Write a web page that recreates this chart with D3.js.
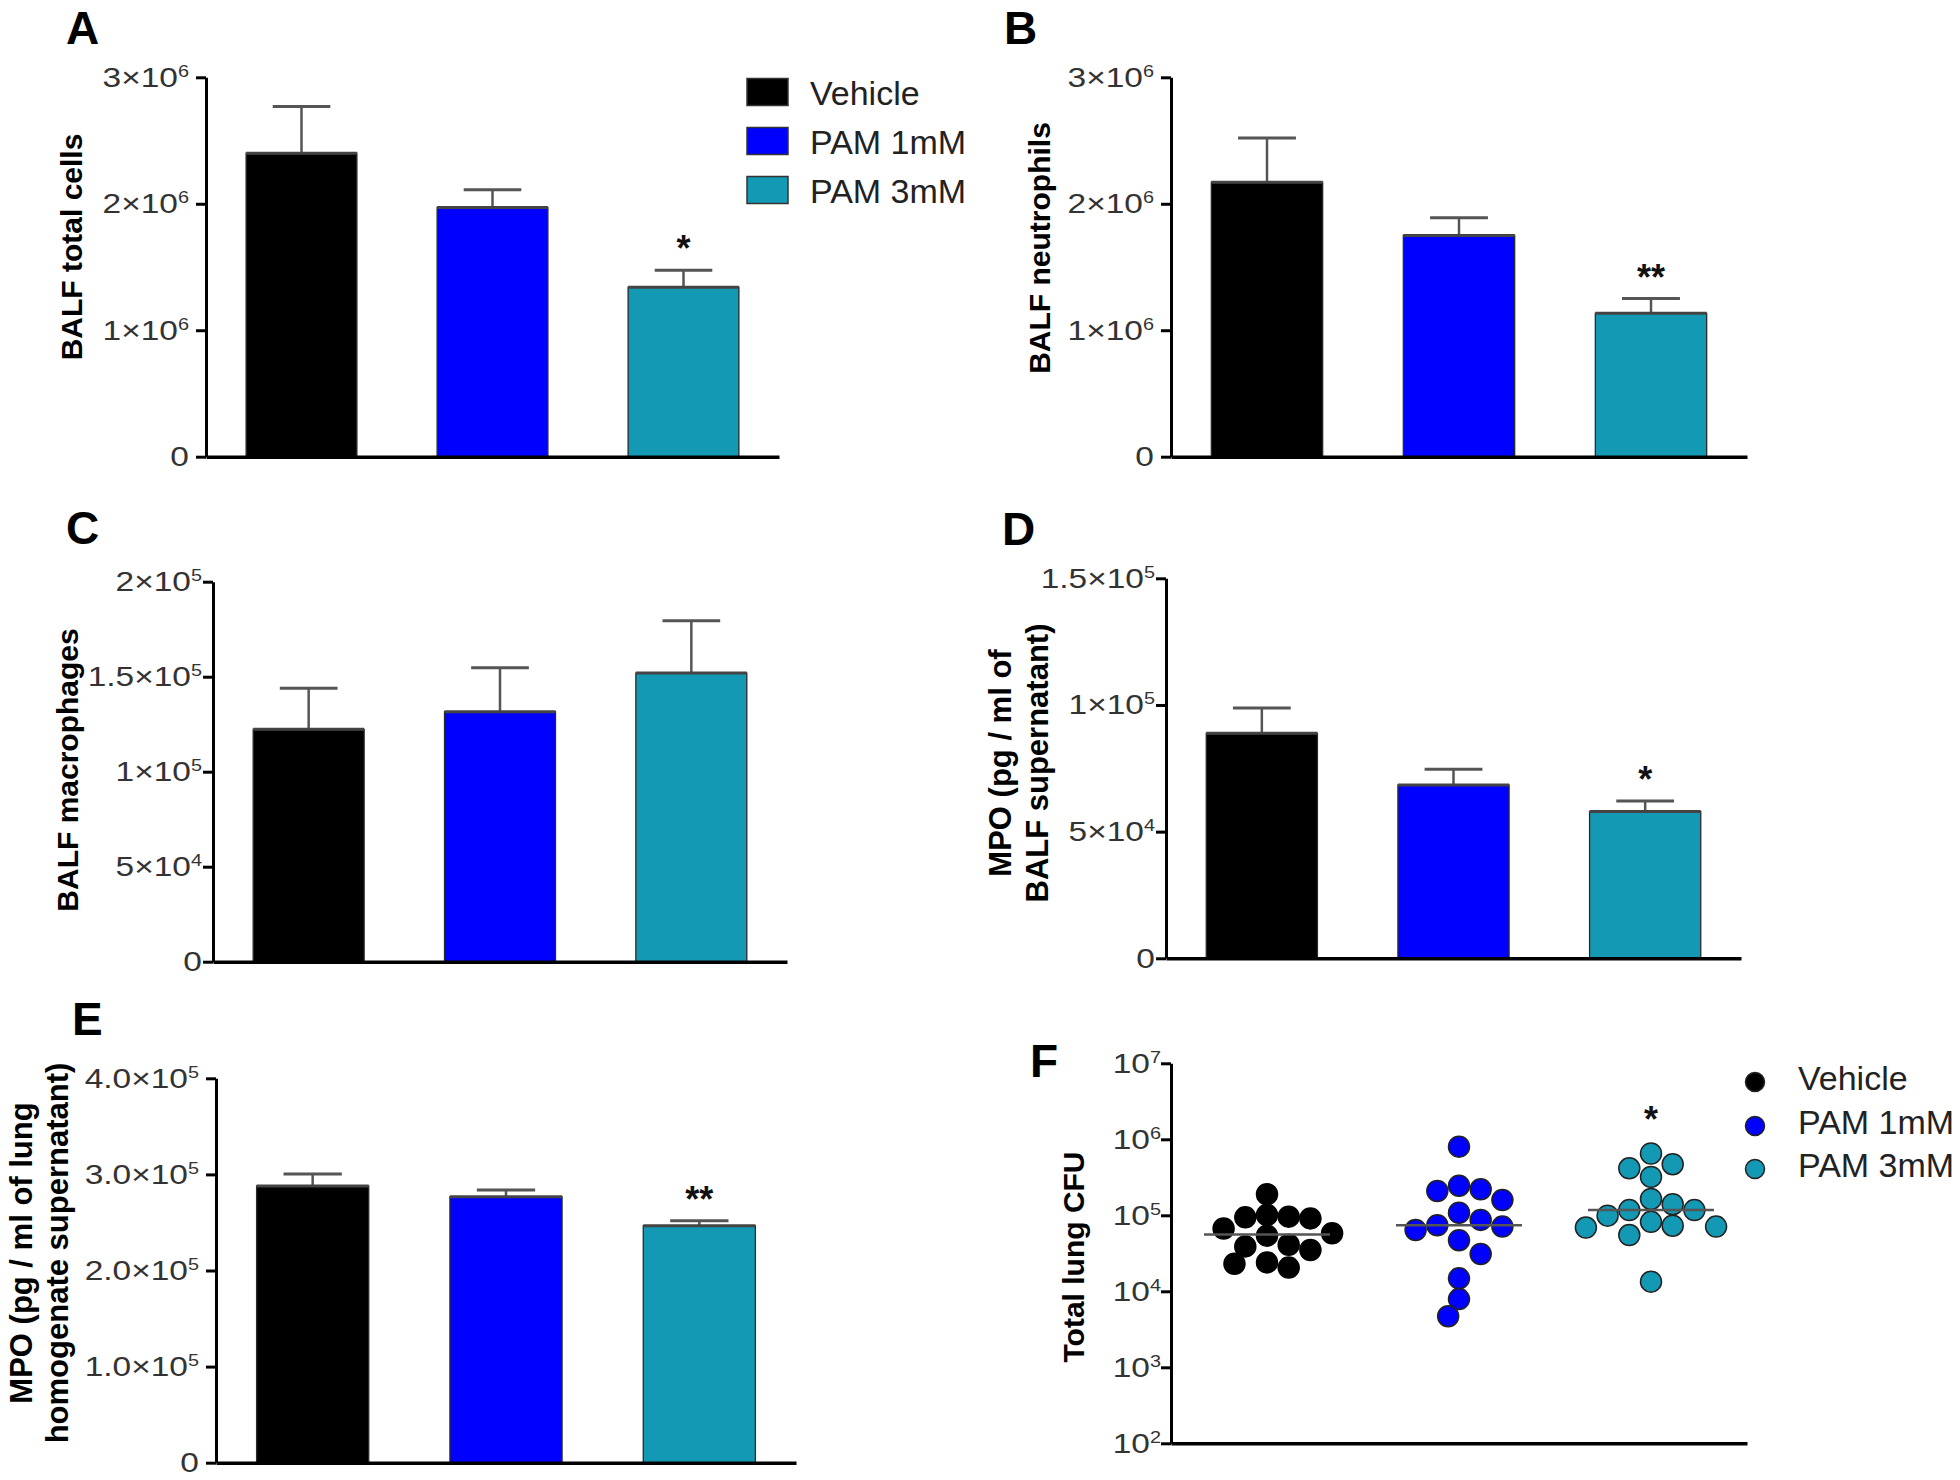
<!DOCTYPE html>
<html><head><meta charset="utf-8">
<script src="https://cdn.jsdelivr.net/npm/d3@7"></script>
<style>
html,body{margin:0;padding:0;background:#fff;}
svg{display:block;font-family:"Liberation Sans",Arial,Helvetica,sans-serif;}
</style></head><body>
<svg id="chart" width="1960" height="1480"></svg>
<script>
// ---------------- DATA ----------------
const groups = ["Vehicle", "PAM 1mM", "PAM 3mM"];

const totalCellsMean = [2.40e6, 1.97e6, 1.34e6];
const totalCellsSem  = [0.37e6, 0.14e6, 0.135e6];
const totalCellsSig  = ["", "", "*"];

const neutrophilsMean = [2.17e6, 1.75e6, 1.134e6];
const neutrophilsSem  = [0.35e6, 0.14e6, 0.116e6];
const neutrophilsSig  = ["", "", "**"];

const macrophagesMean = [1.223e5, 1.316e5, 1.519e5];
const macrophagesSem  = [0.216e5, 0.231e5, 0.276e5];
const macrophagesSig  = ["", "", ""];

const mpoBalfMean = [8.88e4, 6.84e4, 5.79e4];
const mpoBalfSem  = [1.0e4, 0.62e4, 0.42e4];
const mpoBalfSig  = ["", "", "*"];

const mpoLungMean = [2.879e5, 2.768e5, 2.466e5];
const mpoLungSem  = [0.125e5, 0.07e5, 0.052e5];
const mpoLungSig  = ["", "", "**"];

const cfuVehicle = [1.89e5, 1.01e5, 9.1e4, 9.6e4, 9.4e4, 6.7e4, 5.4e4, 5.8e4, 3.9e4, 4.1e4, 3.5e4, 2.05e4, 2.4e4, 2.3e4];
const cfuPam1 = [8.0e5, 2.2e5, 2.45e5, 2.09e5, 1.59e5, 1.08e5, 8.7e4, 7.1e4, 7.4e4, 6.4e4, 4.7e4, 3.1e4, 1.48e4, 7.9e3, 4.7e3];
const cfuPam3 = [6.5e5, 4.7e5, 4.15e5, 3.2e5, 1.64e5, 1.17e5, 1.4e5, 1.17e5, 8.2e4, 9.9e4, 6.9e4, 7.3e4, 7.1e4, 5.5e4, 1.34e4];
const cfuSig = ["", "", "*"];

const ticksA = [0, 1e6, 2e6, 3e6];
const tickLabelsA = ["0", "1×10^6", "2×10^6", "3×10^6"];
const ticksC = [0, 5e4, 1e5, 1.5e5, 2e5];
const tickLabelsC = ["0", "5×10^4", "1×10^5", "1.5×10^5", "2×10^5"];
const ticksD = [0, 5e4, 1e5, 1.5e5];
const tickLabelsD = ["0", "5×10^4", "1×10^5", "1.5×10^5"];
const ticksE = [0, 1e5, 2e5, 3e5, 4e5];
const tickLabelsE = ["0", "1.0×10^5", "2.0×10^5", "3.0×10^5", "4.0×10^5"];
const ticksF = [1e2, 1e3, 1e4, 1e5, 1e6, 1e7];
const tickLabelsF = ["10^2", "10^3", "10^4", "10^5", "10^6", "10^7"];

// ---------------- STYLE ----------------
const colors = ["#000000", "#0000ff", "#1399b4"];
const svg = d3.select("#chart");
const TICK_FS = 27, SUP_FS = 16, TEXT_SX = 1.24;

function tickLabels(g, scale, values, labels, ax, gap) {
  values.forEach((v, i) => {
    const parts = labels[i].split("^");
    const t = g.append("text")
      .attr("transform", `translate(${ax - gap},${scale(v)}) scale(${TEXT_SX},1)`)
      .attr("text-anchor", "end").attr("dy", "0.35em")
      .attr("font-size", TICK_FS).attr("fill", "#333");
    t.append("tspan").text(parts[0]);
    if (parts[1]) t.append("tspan").attr("font-size", SUP_FS).attr("dy", -10).text(parts[1]);
  });
}

function yAxis(g, scale, values, ax) {
  const a = g.append("g").attr("transform", `translate(${ax},0)`)
    .call(d3.axisLeft(scale).tickValues(values).tickSize(10).tickSizeOuter(0).tickFormat(""));
  a.select(".domain").attr("stroke", "#000").attr("stroke-width", 3);
  a.selectAll(".tick line").attr("stroke", "#000").attr("stroke-width", 3);
}

function xAxis(g, x, y0) {
  const a = g.append("g").attr("transform", `translate(0,${y0})`)
    .call(d3.axisBottom(x).tickSize(0).tickSizeOuter(0).tickFormat(""));
  a.select(".domain").attr("stroke", "#000").attr("stroke-width", 3.5);
  a.selectAll(".tick").remove();
}

function panelLetter(letter, x, y) {
  svg.append("text").attr("x", x).attr("y", y).attr("font-size", 46)
    .attr("font-weight", "bold").attr("fill", "#000").text(letter);
}

function yLabel(lines, cxs, cy, fs) {
  lines.forEach((l, i) => {
    svg.append("text").attr("transform", `translate(${cxs[i]},${cy}) rotate(-90)`)
      .attr("text-anchor", "middle").attr("dy", "0.36em")
      .attr("font-size", fs).attr("font-weight", "bold").attr("fill", "#000").text(l);
  });
}

function barPanel(cfg) {
  const g = svg.append("g");
  const x = d3.scaleBand().domain(groups).range([cfg.ax, cfg.x1]).paddingInner(0.42).paddingOuter(0.21);
  const y = d3.scaleLinear().domain([0, cfg.max]).range([cfg.y0, cfg.yTop]);
  const bw = x.bandwidth();
  const data = groups.map((gname, i) => ({g: gname, m: cfg.mean[i], s: cfg.sem[i], sig: cfg.sig[i], c: colors[i]}));
  const eb = g.selectAll(".eb").data(data).enter().append("g");
  eb.append("line").attr("x1", d => x(d.g) + bw / 2).attr("x2", d => x(d.g) + bw / 2)
    .attr("y1", d => y(d.m)).attr("y2", d => y(d.m + d.s)).attr("stroke", "#555").attr("stroke-width", 2.5);
  eb.append("line").attr("x1", d => x(d.g) + bw / 2 - bw * 0.26).attr("x2", d => x(d.g) + bw / 2 + bw * 0.26)
    .attr("y1", d => y(d.m + d.s)).attr("y2", d => y(d.m + d.s)).attr("stroke", "#555").attr("stroke-width", 3);
  g.selectAll(".bar").data(data).enter().append("rect")
    .attr("x", d => x(d.g)).attr("width", bw)
    .attr("y", d => y(d.m)).attr("height", d => cfg.y0 - y(d.m))
    .attr("fill", d => d.c).attr("stroke", "#2a2a2a").attr("stroke-width", 1.3);
  g.selectAll(".top").data(data).enter().append("line")
    .attr("x1", d => x(d.g)).attr("x2", d => x(d.g) + bw)
    .attr("y1", d => y(d.m)).attr("y2", d => y(d.m)).attr("stroke", "#444").attr("stroke-width", 3);
  g.selectAll(".sig").data(data.filter(d => d.sig)).enter().append("text")
    .attr("x", d => x(d.g) + bw / 2).attr("y", d => y(d.m + d.s) - 9)
    .attr("text-anchor", "middle").attr("font-size", 36).attr("font-weight", "bold").attr("fill", "#111")
    .text(d => d.sig);
  yAxis(g, y, cfg.ticks, cfg.ax);
  xAxis(g, x, cfg.y0);
  tickLabels(g, y, cfg.ticks, cfg.tickLabels, cfg.ax, cfg.gap);
}

// Panel A
barPanel({ax: 206, x1: 779, y0: 456.7, yTop: 77.3, max: 3e6, gap: 17, mean: totalCellsMean, sem: totalCellsSem, sig: totalCellsSig, ticks: ticksA, tickLabels: tickLabelsA});
panelLetter("A", 66, 44);
yLabel(["BALF total cells"], [71.5], 247, 30);
groups.forEach((gname, i) => {
  const cy = 92 + i * 49;
  svg.append("rect").attr("x", 747).attr("y", cy - 13.5).attr("width", 41).attr("height", 27)
    .attr("fill", colors[i]).attr("stroke", "#333").attr("stroke-width", 1.5);
  svg.append("text").attr("x", 810).attr("y", cy + 13).attr("font-size", 34).attr("fill", "#222").text(gname);
});

// Panel B
barPanel({ax: 1171, x1: 1747, y0: 456.7, yTop: 77.3, max: 3e6, gap: 17, mean: neutrophilsMean, sem: neutrophilsSem, sig: neutrophilsSig, ticks: ticksA, tickLabels: tickLabelsA});
panelLetter("B", 1004, 44);
yLabel(["BALF neutrophils"], [1039.5], 248, 30);

// Panel C
barPanel({ax: 213, x1: 787, y0: 961.7, yTop: 581.7, max: 2e5, gap: 11, mean: macrophagesMean, sem: macrophagesSem, sig: macrophagesSig, ticks: ticksC, tickLabels: tickLabelsC});
panelLetter("C", 66, 544);
yLabel(["BALF macrophages"], [67], 770, 30);

// Panel D
barPanel({ax: 1166, x1: 1741, y0: 958.3, yTop: 578.3, max: 1.5e5, gap: 11, mean: mpoBalfMean, sem: mpoBalfSem, sig: mpoBalfSig, ticks: ticksD, tickLabels: tickLabelsD});
panelLetter("D", 1002, 545);
yLabel(["MPO (pg / ml of", "BALF supernatant)"], [1000, 1037], 763, 31);

// Panel E
barPanel({ax: 216, x1: 796, y0: 1462.7, yTop: 1078.3, max: 4e5, gap: 17, mean: mpoLungMean, sem: mpoLungSem, sig: mpoLungSig, ticks: ticksE, tickLabels: tickLabelsE});
panelLetter("E", 72, 1035);
yLabel(["MPO (pg / ml of lung", "homogenate supernatant)"], [21, 57], 1253, 31);

// Panel F (scatter, log scale)
(function () {
  const cfg = {ax: 1171, x1: 1747, y0: 1443.3, yTop: 1063.3};
  const g = svg.append("g");
  const x = d3.scaleBand().domain(groups).range([cfg.ax, cfg.x1]).paddingInner(0.42).paddingOuter(0.21);
  const y = d3.scaleLog().domain([1e2, 1e7]).range([cfg.y0, cfg.yTop]);
  const series = [cfuVehicle, cfuPam1, cfuPam3];
  const r = 10.5, minD = 20, step = 10.85;
  series.forEach((vals, gi) => {
    const cx = x(groups[gi]) + x.bandwidth() / 2;
    const order = d3.range(vals.length).sort((a, b) => vals[b] - vals[a]);
    const placed = [];
    order.forEach(i => {
      const py = y(vals[i]);
      for (let k = 0; k < 40; k++) {
        const offs = k === 0 ? [0] : (k % 2 ? [-k * step, k * step] : [k * step, -k * step]);
        let found = null;
        for (const o of offs) {
          if (placed.every(p => Math.hypot(p.x - (cx + o), p.y - py) >= minD)) { found = o; break; }
        }
        if (found !== null) { placed.push({x: cx + found, y: py}); break; }
      }
    });
    g.selectAll(null).data(placed).enter().append("circle")
      .attr("cx", d => d.x).attr("cy", d => d.y).attr("r", r)
      .attr("fill", colors[gi]).attr("stroke", gi === 0 ? "#000" : "#222").attr("stroke-width", 1.5);
    const med = d3.median(vals);
    g.append("line").attr("x1", cx - 63).attr("x2", cx + 63).attr("y1", y(med)).attr("y2", y(med))
      .attr("stroke", "#555").attr("stroke-width", 2.5);
    if (cfuSig[gi]) {
      g.append("text").attr("x", cx).attr("y", y(d3.max(vals)) - 42 + 20)
        .attr("text-anchor", "middle").attr("font-size", 36).attr("font-weight", "bold").attr("fill", "#111")
        .text(cfuSig[gi]);
    }
  });
  yAxis(g, y, ticksF, cfg.ax);
  xAxis(g, x, cfg.y0);
  tickLabels(g, y, ticksF, tickLabelsF, cfg.ax, 10);
  panelLetter("F", 1030, 1077);
  yLabel(["Total lung CFU"], [1073.5], 1257, 30);
  const lys = [1082, 1126, 1169];
  groups.forEach((gname, i) => {
    svg.append("circle").attr("cx", 1755).attr("cy", lys[i]).attr("r", 9.5)
      .attr("fill", colors[i]).attr("stroke", "#222").attr("stroke-width", 1.5);
    svg.append("text").attr("x", 1798).attr("y", lys[i] + 8).attr("font-size", 34).attr("fill", "#222").text(gname);
  });
})();
</script>
</body></html>
